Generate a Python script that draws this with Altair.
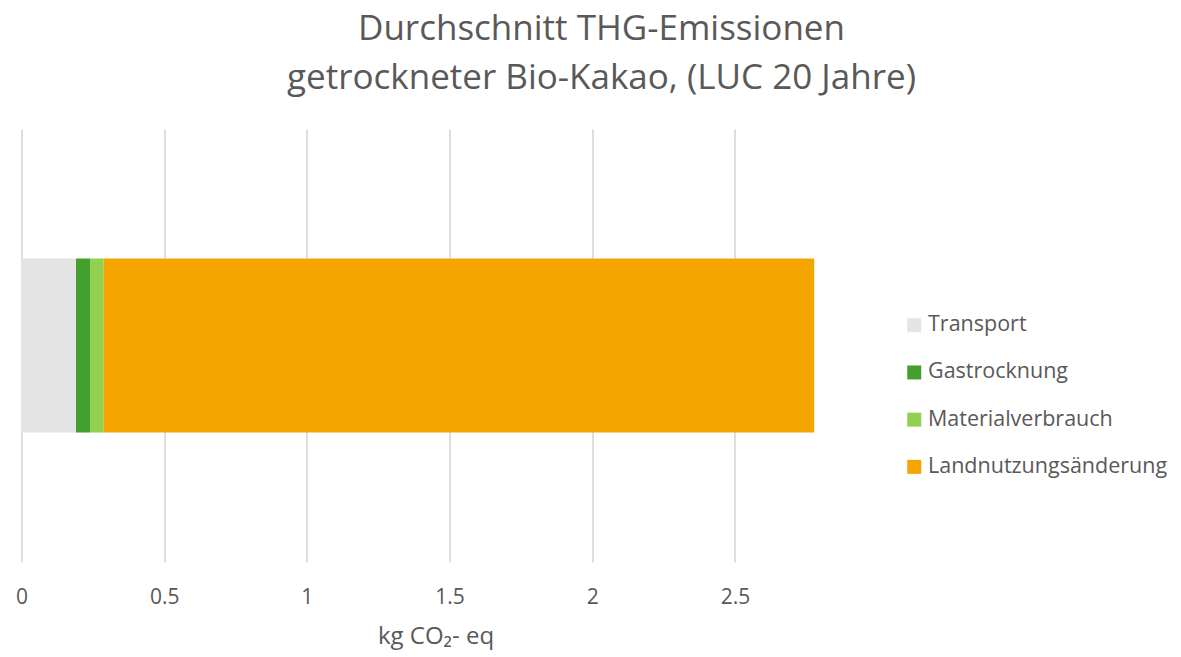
import altair as alt
import pandas as pd

categories = ["Transport", "Gastrocknung", "Materialverbrauch", "Landnutzungsänderung"]
values = [0.191, 0.049, 0.048, 2.490]
colors = ["#E4E4E4", "#43A02E", "#92D050", "#F5A500"]
tick_values = [0, 0.5, 1, 1.5, 2, 2.5]

df = pd.DataFrame({
    "Kategorie": categories,
    "Wert": values,
    "ord": list(range(len(categories))),
    "row": ["Bio-Kakao"] * len(categories),
})

FONT = "Open Sans"
GREY = "#595959"

chart = alt.Chart(df).mark_bar(size=174).encode(
    x=alt.X(
        "Wert:Q",
        stack="zero",
        scale=alt.Scale(domain=[0, 2.8], nice=False),
        axis=alt.Axis(
            values=tick_values,
            format="~g",
            title="kg CO₂- eq",
            labelFontSize=21,
            labelColor=GREY,
            labelFont=FONT,
            labelPadding=24,
            titleFont=FONT,
            titleFontSize=24,
            titleFontWeight="normal",
            titleColor=GREY,
            titlePadding=17,
            titleX=414,
            domain=False,
            ticks=False,
            grid=True,
            gridColor="#DEDEDE",
            gridWidth=2,
            labelFlush=False,
        ),
    ),
    y=alt.Y("row:N", axis=None),
    color=alt.Color(
        "Kategorie:N",
        scale=alt.Scale(domain=categories, range=colors),
        sort=categories,
        legend=alt.Legend(
            title=None,
            orient="none",
            legendX=882,
            legendY=185.5,
            symbolType="square",
            symbolSize=196,
            symbolStrokeWidth=0,
            labelFontSize=21.5,
            labelFont=FONT,
            labelColor=GREY,
            labelOffset=3,
            rowPadding=24.2,
            labelLimit=400,
        ),
    ),
    order=alt.Order("ord:Q", sort="ascending"),
).properties(
    width=799,
    height=433,
    autosize=alt.AutoSizeParams(type="none"),
    padding={"left": 13.5, "top": 121, "right": 352, "bottom": 92},
    title=alt.TitleParams(
        text=["Durchschnitt THG-Emissionen", "getrockneter Bio-Kakao, (LUC 20 Jahre)"],
        font=FONT,
        fontSize=35,
        fontWeight="normal",
        color=GREY,
        lineHeight=49,
        anchor="middle",
        frame="bounds",
        offset=33,
        dx=10,
    ),
).configure_view(stroke=None)

chart.save("out.html", embed_options={"renderer": "svg", "actions": False})
